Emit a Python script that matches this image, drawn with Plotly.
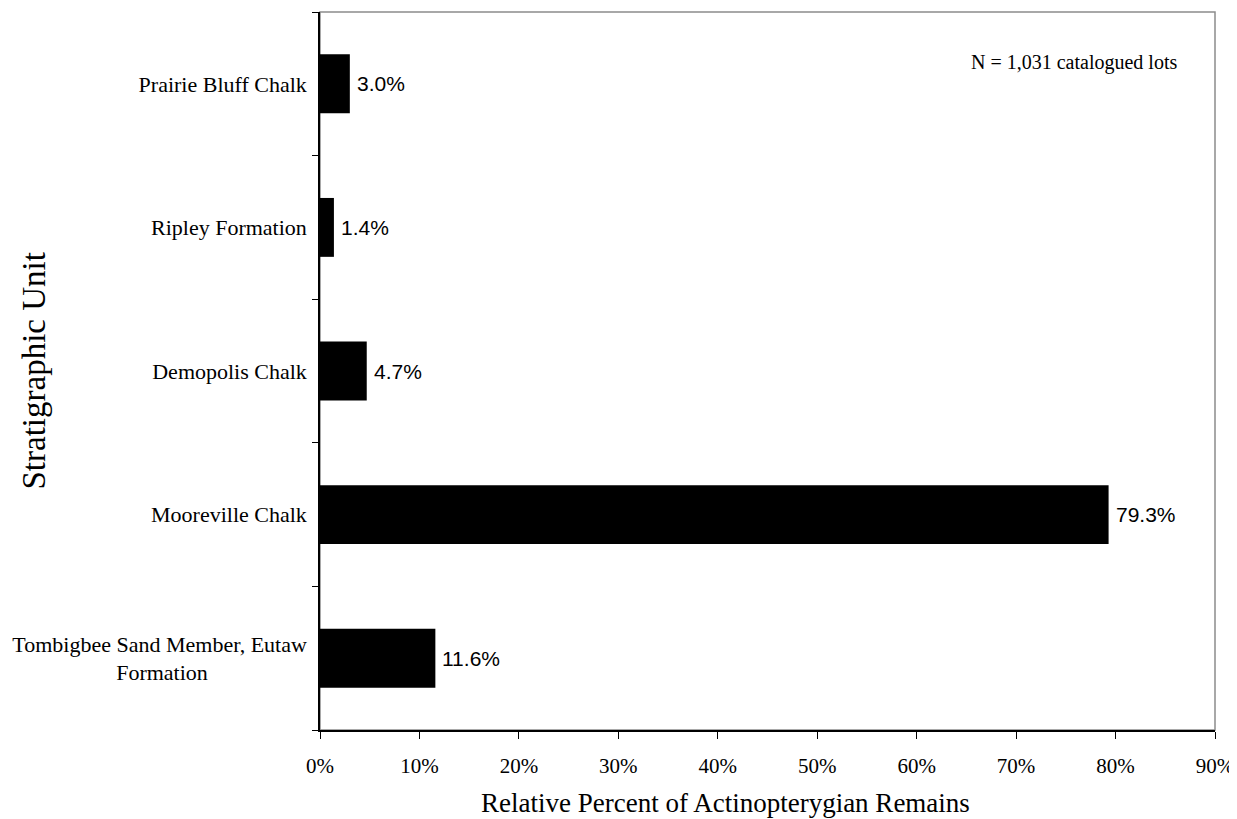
import plotly.graph_objects as go

# Data (bottom to top as drawn)
units = ["Tombigbee Sand Member, Eutaw<br>Formation" + "&#160;" * 18, "Mooreville Chalk",
         "Demopolis Chalk", "Ripley Formation", "Prairie Bluff Chalk"]
percent = [11.6, 79.3, 4.7, 1.4, 3.0]
x_ticks = [0, 10, 20, 30, 40, 50, 60, 70, 80, 90]
x_tick_labels = ["0%", "10%", "20%", "30%", "40%", "50%", "60%", "70%", "80%", "90%"]
note_text = "N = 1,031 catalogued lots"
x_title = "Relative Percent of Actinopterygian Remains"
y_title = "Stratigraphic Unit"

serif = "Liberation Serif, Times New Roman, serif"
sans = "Liberation Sans, Arial, sans-serif"

fig = go.Figure()
fig.add_trace(go.Bar(
    x=percent, y=units, orientation="h",
    marker=dict(color="black", line=dict(width=0)),
    width=0.41, hoverinfo="skip",
))

annotations = []
for v, u in zip(percent, units):
    annotations.append(dict(
        x=v, y=u, xref="x", yref="y", text=f"{v:.1f}%", showarrow=False,
        xanchor="left", yanchor="middle", xshift=5,
        font=dict(family=sans, size=21, color="black"),
    ))
annotations.append(dict(
    x=0.960, y=0.930, xref="paper", yref="paper", text=note_text,
    showarrow=False, xanchor="right", yanchor="middle",
    font=dict(family=serif, size=20, color="black"),
))
annotations.append(dict(
    x=0.453, y=-0.102, xref="paper", yref="paper", text=x_title,
    showarrow=False, xanchor="center", yanchor="middle",
    font=dict(family=serif, size=27, color="black"),
))
annotations.append(dict(
    x=-0.319, y=0.5, xref="paper", yref="paper", text=y_title,
    showarrow=False, xanchor="center", yanchor="middle", textangle=-90,
    font=dict(family=serif, size=33, color="black"),
))

fig.update_layout(
    width=1237, height=819,
    margin=dict(l=310, r=30, t=4, b=97),
    paper_bgcolor="white", plot_bgcolor="white",
    showlegend=False,
    annotations=annotations,
    shapes=[dict(type="rect", xref="paper", yref="paper", x0=0, x1=1, y0=0, y1=1,
                 line=dict(color="#8c8c8c", width=1.5), layer="below")],
    xaxis=dict(
        range=[0, 90], tickvals=x_ticks, ticktext=x_tick_labels,
        showgrid=False, zeroline=False,
        showline=True, linecolor="black", linewidth=1.5,
        ticks="outside", ticklen=7, tickwidth=1.2, tickcolor="black",
        ticklabelstandoff=9,
        tickfont=dict(family=serif, size=21, color="black"),
    ),
    yaxis=dict(
        type="category", categoryorder="array", categoryarray=units,
        range=[-0.5, 4.5], tickson="boundaries",
        showgrid=False, zeroline=False,
        showline=True, linecolor="black", linewidth=1.5,
        ticks="outside", ticklen=6, tickwidth=1.2, tickcolor="black",
        ticklabelstandoff=7,
        tickfont=dict(family=serif, size=22, color="black"),
    ),
)

fig.write_html("out.html")
